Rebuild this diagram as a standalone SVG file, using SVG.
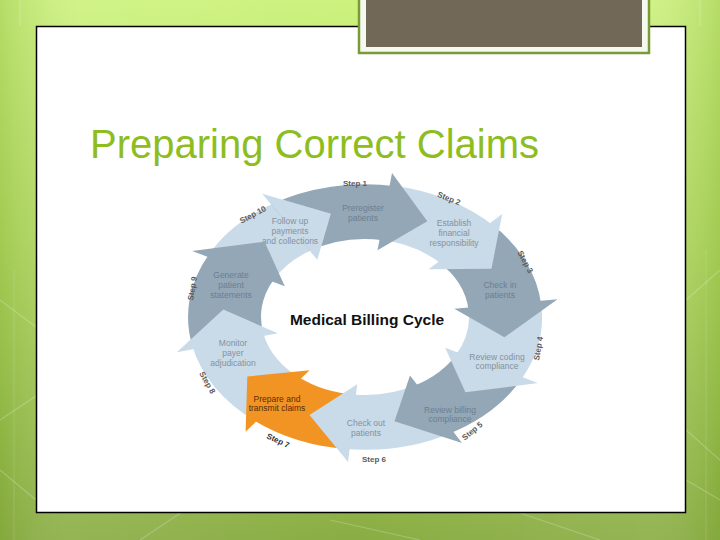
<svg xmlns="http://www.w3.org/2000/svg" width="720" height="540" viewBox="0 0 720 540">
<defs>
<linearGradient id="bg" x1="0" y1="0" x2="0" y2="1">
<stop offset="0" stop-color="#cdf27e"/>
<stop offset="0.45" stop-color="#b3da62"/>
<stop offset="1" stop-color="#8aad44"/>
</linearGradient>
<linearGradient id="bgside" x1="0" y1="0" x2="1" y2="0">
<stop offset="0" stop-color="#6f9a20" stop-opacity="0.25"/>
<stop offset="0.12" stop-color="#ffffff" stop-opacity="0.08"/>
<stop offset="0.5" stop-color="#ffffff" stop-opacity="0"/>
<stop offset="0.88" stop-color="#ffffff" stop-opacity="0.08"/>
<stop offset="1" stop-color="#6f9a20" stop-opacity="0.25"/>
</linearGradient>
<mask id="m1" maskUnits="userSpaceOnUse" x="-300" y="-300" width="600" height="600">
<rect x="-300" y="-300" width="600" height="600" fill="#fff"/>
<polygon points="-102.8,-164.5 -34.3,-137.8 -47.7,-76.3" fill="#000"/>
</mask>
<style>
.dark{fill:#93a7b7}
.light{fill:#c9dae8}
.orange{fill:#f29423}
.lbl{font-family:"Liberation Sans",Arial,sans-serif;font-size:8.5px;text-anchor:middle}
.ld{fill:#6c7f90}
.ll{fill:#84929f}
.lo{fill:#5a2c0a}
.step{font-family:"Liberation Sans",Arial,sans-serif;font-size:8px;font-weight:bold;fill:#5a5a5a;text-anchor:middle}
.bgl{stroke:#ffffff;stroke-opacity:0.22;stroke-width:1.2;fill:none}
</style>
</defs>

<!-- background -->
<rect x="0" y="0" width="720" height="540" fill="url(#bg)"/>
<rect x="0" y="0" width="720" height="540" fill="url(#bgside)"/>
<g class="bgl">
<path d="M0,300 L40,330 M0,420 L60,380 M0,470 L36,500 M140,540 L230,480 M330,520 L420,540 M520,513 L600,540 M686,300 L720,270 M686,430 L720,460 M686,480 L720,500 M20,0 L20,26 M700,0 L700,26"/>
<path d="M14,270 L14,540 M706,250 L706,540" stroke-opacity="0.12"/>
</g>

<!-- white panel -->
<rect x="36.5" y="26.5" width="649" height="486" fill="#ffffff" stroke="#000000" stroke-width="1.5"/>

<!-- brown header box -->
<rect x="359" y="-4" width="290" height="57" fill="#f6f9f0" stroke="#7a9a36" stroke-width="2.5"/>
<rect x="366" y="-2" width="276" height="49" fill="#726858"/>

<!-- title -->
<text x="90" y="158" font-family="'Liberation Sans',Arial,sans-serif" font-size="40" fill="#8dbd1e">Preparing Correct Claims</text>

<!-- cycle -->
<g id="step10">
<g transform="translate(365,317) scale(1,0.75)">
<path class="light" d="M-157.7,-80.4 A177,177 0 0 1 -88.5,-153.3 L-52.0,-90.1 A104,104 0 0 0 -92.7,-47.2 Z"/>
<polygon class="light" points="-102.8,-164.5 -34.3,-137.8 -47.7,-76.3"/>
</g>
<text class="lbl ll" x="290" y="224">Follow up</text>
<text class="lbl ll" x="290" y="234">payments</text>
<text class="lbl ll" x="290" y="244">and collections</text>
<text class="step" transform="translate(254,217) rotate(-28)">Step 10</text>
</g>

<g id="step9">
<g transform="translate(365,317) scale(1,0.75)">
<path class="dark" d="M-171.7,42.8 A177,177 0 0 1 -154.8,-85.8 L-91.0,-50.4 A104,104 0 0 0 -100.9,25.2 Z"/>
<polygon class="dark" points="-172.9,-88.1 -100.4,-100.4 -80.2,-40.9"/>
</g>
<text class="lbl ld" x="231" y="278">Generate</text>
<text class="lbl ld" x="231" y="288">patient</text>
<text class="lbl ld" x="231" y="298">statements</text>
<text class="step" transform="translate(195,289) rotate(-80)">Step 9</text>
</g>

<g id="step8">
<g transform="translate(365,317) scale(1,0.75)">
<path class="light" d="M-109.0,139.5 A177,177 0 0 1 -173.1,36.8 L-101.7,21.6 A104,104 0 0 0 -64.0,82.0 Z"/>
<polygon class="light" points="-188.2,46.9 -141.7,-9.9 -87.3,21.8"/>
</g>
<text class="lbl ll" x="233" y="346">Monitor</text>
<text class="lbl ll" x="233" y="356">payer</text>
<text class="lbl ll" x="233" y="366">adjudication</text>
<text class="step" transform="translate(205,384) rotate(60)">Step 8</text>
</g>

<g id="step7">
<g transform="translate(365,317) scale(1,0.75)">
<path class="orange" d="M-15.4,176.3 A177,177 0 0 1 -113.8,135.6 L-66.9,79.7 A104,104 0 0 0 -9.1,103.6 Z"/>
<polygon class="orange" points="-119.4,152.9 -117.7,79.4 -55.4,70.9"/>
</g>
<text class="lbl lo" x="277" y="402">Prepare and</text>
<text class="lbl lo" x="277" y="411">transmit claims</text>
<text class="step" fill="#333" style="fill:#333" transform="translate(277,443) rotate(25)">Step 7</text>
</g>

<g id="step6">
<g transform="translate(365,317) scale(1,0.75)">
<path class="light" d="M88.5,153.3 A177,177 0 0 1 -21.6,175.7 L-12.7,103.2 A104,104 0 0 0 52.0,90.1 Z"/>
<polygon class="light" points="-16.9,193.3 -55.5,130.7 -7.8,89.7"/>
</g>
<text class="lbl ll" x="366" y="426">Check out</text>
<text class="lbl ll" x="366" y="436">patients</text>
<text class="step" x="374" y="462">Step 6</text>
</g>

<g id="step5">
<g transform="translate(365,317) scale(1,0.75)">
<path class="dark" d="M157.7,80.4 A177,177 0 0 1 83.1,156.3 L48.8,91.8 A104,104 0 0 0 92.7,47.2 Z"/>
<polygon class="dark" points="97.0,168.0 29.5,138.9 45.0,77.9"/>
</g>
<text class="lbl ld" x="450" y="413">Review billing</text>
<text class="lbl ld" x="450" y="422">compliance</text>
<text class="step" transform="translate(474,433) rotate(-40)">Step 5</text>
</g>

<g id="step4">
<g transform="translate(365,317) scale(1,0.75)">
<path class="light" d="M175.7,-21.6 A177,177 0 0 1 154.8,85.8 L91.0,50.4 A104,104 0 0 0 103.2,-12.7 Z"/>
<polygon class="light" points="172.9,88.1 100.4,100.4 80.2,40.9"/>
</g>
<text class="lbl ll" x="497" y="360">Review coding</text>
<text class="lbl ll" x="497" y="369">compliance</text>
<text class="step" transform="translate(541,349) rotate(-80)">Step 4</text>
</g>

<g id="step3">
<g transform="translate(365,317) scale(1,0.75)">
<path class="dark" d="M125.2,-125.2 A177,177 0 0 1 176.3,-15.4 L103.6,-9.1 A104,104 0 0 0 73.5,-73.5 Z"/>
<polygon class="dark" points="192.6,-23.6 139.4,27.1 89.3,-11.0"/>
</g>
<text class="lbl ld" x="500" y="288">Check in</text>
<text class="lbl ld" x="500" y="298">patients</text>
<text class="step" transform="translate(523,263) rotate(62)">Step 3</text>
</g>

<g id="step2">
<g transform="translate(365,317) scale(1,0.75)">
<path class="light" d="M24.6,-175.3 A177,177 0 0 1 129.5,-120.7 L76.1,-70.9 A104,104 0 0 0 14.5,-103.0 Z"/>
<polygon class="light" points="137.2,-137.2 126.5,-64.5 63.6,-63.6"/>
</g>
<text class="lbl ll" x="454" y="226">Establish</text>
<text class="lbl ll" x="454" y="236">financial</text>
<text class="lbl ll" x="454" y="246">responsibility</text>
<text class="step" transform="translate(448,201) rotate(22)">Step 2</text>
</g>

<g id="step1">
<g transform="translate(365,317) scale(1,0.75)">
<path class="dark" mask="url(#m1)" d="M-93.8,-150.1 A177,177 0 0 1 30.7,-174.3 L18.1,-102.4 A104,104 0 0 0 -55.1,-88.2 Z"/>
<polygon class="dark" points="27.0,-192.1 62.3,-127.6 12.5,-89.1"/>
</g>
<text class="lbl ld" x="363" y="211">Preregister</text>
<text class="lbl ld" x="363" y="221">patients</text>
<text class="step" x="355" y="186">Step 1</text>
</g>

<g id="center">
<text x="367" y="325" font-family="'Liberation Sans',Arial,sans-serif" font-size="15.5" font-weight="bold" fill="#111" text-anchor="middle">Medical Billing Cycle</text>
</g>
<g id="connectors"/>
</svg>
